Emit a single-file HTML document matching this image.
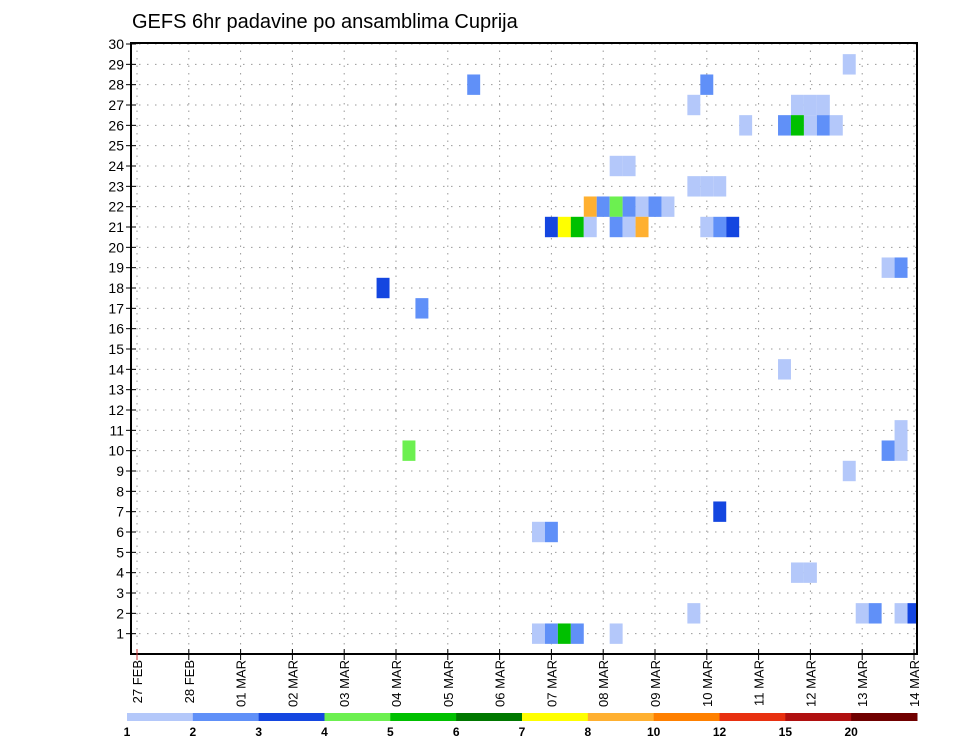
<!DOCTYPE html>
<html><head><meta charset="utf-8"><style>
html,body{margin:0;padding:0;background:#fff;width:960px;height:742px;overflow:hidden}
svg{display:block;font-family:"Liberation Sans",sans-serif}
</style></head><body>
<svg id="c" width="960" height="742" viewBox="0 0 960 742" xmlns="http://www.w3.org/2000/svg">
<text x="132" y="28" font-size="20" fill="#000">GEFS 6hr padavine po ansamblima Cuprija</text>
<g id="grid"></g>
<g id="cells"></g>
<g id="axes"></g>
<g id="cbar"></g>
</svg>
<script>
// categories
const dayLabels = ["27 FEB","28 FEB","01 MAR","02 MAR","03 MAR","04 MAR","05 MAR","06 MAR","07 MAR","08 MAR","09 MAR","10 MAR","11 MAR","12 MAR","13 MAR","14 MAR"];
const members = [1,2,3,4,5,6,7,8,9,10,11,12,13,14,15,16,17,18,19,20,21,22,23,24,25,26,27,28,29,30];
const levels = [1,2,3,4,5,6,7,8,10,12,15,20];
const levelColors = ["#b4c8fa","#6090f8","#1446e0","#6cf050","#00c000","#007800","#ffff00","#ffb030","#ff8000","#e83010","#b01010","#700000"];
// cell data: member, time (days since 27 FEB 00Z), precipitation value
const cellMember = [28,18,17,10, 24,24, 23,23,23, 22,22,22,22,22,22,22, 21,21,21,21,21,21,21,21,21,21, 29,28,27,27,27,27, 26,26,26,26,26,26, 19,19, 14, 11,10,10, 9, 4,4, 2,2,2,2,2, 7, 6,6, 1,1,1,1,1];
const cellTime   = [6.5,4.75,5.5,5.25, 9.25,9.5, 10.75,11,11.25, 8.75,9,9.25,9.5,9.75,10,10.25, 8,8.25,8.5,8.75,9.25,9.5,9.75,11,11.25,11.5, 13.75,11,10.75,12.75,13,13.25, 11.75,12.5,12.75,13,13.25,13.5, 14.5,14.75, 12.5, 14.75,14.75,14.5, 13.75, 12.75,13, 10.75,14,14.25,14.75,15, 11.25, 7.75,8, 7.75,8,8.25,8.5,9.25];
const cellValue  = [2.5,3.5,2.5,4.5, 1.5,1.5, 1.5,1.5,1.5, 9,2.5,4.5,2.5,1.5,2.5,1.5, 3.5,7.5,5.5,1.5,2.5,1.5,9,1.5,2.5,3.5, 1.5,2.5,1.5,1.5,1.5,1.5, 1.5,2.5,5.5,1.5,2.5,1.5, 1.5,2.5, 1.5, 1.5,1.5,2.5, 1.5, 1.5,1.5, 1.5,1.5,2.5,1.5,3.5, 3.5, 1.5,2.5, 1.5,2.5,5.5,2.5,1.5];

const NS="http://www.w3.org/2000/svg";
const L=131,T=43,R=917,B=654;
const X=t=>137+51.8*t;
const Y=m=>654-20.333*m;
function mk(tag,attrs,parent){const e=document.createElementNS(NS,tag);for(const k in attrs)e.setAttribute(k,attrs[k]);parent.appendChild(e);return e;}
function colorFor(v){let i=0;for(let k=0;k<levels.length;k++){if(v>=levels[k])i=k;}return levelColors[i];}

const grid=document.getElementById('grid');
members.forEach(m=>{
  const l=mk('line',{x1:L,x2:R,y1:Y(m),y2:Y(m),stroke:'#999','stroke-width':1,'stroke-dasharray':'1.5 6.5'},grid);
  
  
});
dayLabels.forEach((d,i)=>{
  const l=mk('line',{x1:X(i),x2:X(i),y1:T,y2:B,stroke:'#999','stroke-width':1,'stroke-dasharray':'1.5 6'},grid);
  
  
});

const cells=document.getElementById('cells');
const w=51.8/4;
cellMember.forEach((m,i)=>{
  let x0=X(cellTime[i])-w/2, x1=Math.min(X(cellTime[i])+w/2,R);
  const r=mk('rect',{x:x0,y:Y(m)-10.2,width:x1-x0,height:20.4,fill:colorFor(cellValue[i])},cells);
  
  
});

const axes=document.getElementById('axes');
const fr=mk('rect',{x:L,y:T,width:R-L,height:B-T,fill:'none',stroke:'#000','stroke-width':2},axes);


members.forEach(m=>{
  const tk=mk('line',{x1:L-5,x2:L+5,y1:Y(m),y2:Y(m),stroke:'#000','stroke-width':1},axes);
  
  
  const t=mk('text',{x:L-7,y:Y(m)+5,'font-size':14,'text-anchor':'end',fill:'#000'},axes);
  t.textContent=m;
  
  
});
dayLabels.forEach((d,i)=>{
  const tk=mk('line',{x1:X(i),x2:X(i),y1:B-5,y2:B+6,stroke:i===0?'#c33':'#000','stroke-width':1},axes);
  
  
  const t=mk('text',{x:0,y:0,'font-size':13,'text-anchor':'end',fill:'#000',transform:`translate(${X(i)+5},${B+6}) rotate(-90)`},axes);
  t.textContent=d;
  
  
});

const cbar=document.getElementById('cbar');
const cbL=127,cbR=917,segW=(cbR-cbL)/levelColors.length;
levelColors.forEach((c,i)=>{
  const r=mk('rect',{x:cbL+i*segW,y:713,width:segW+0.5,height:8,fill:c},cbar);
  
  
});
levels.forEach((v,i)=>{
  const t=mk('text',{x:cbL+i*segW,y:736,'font-size':12,'font-weight':'bold','text-anchor':'middle',fill:'#000'},cbar);
  t.textContent=v;
  
  
});
</script>
</body></html>
